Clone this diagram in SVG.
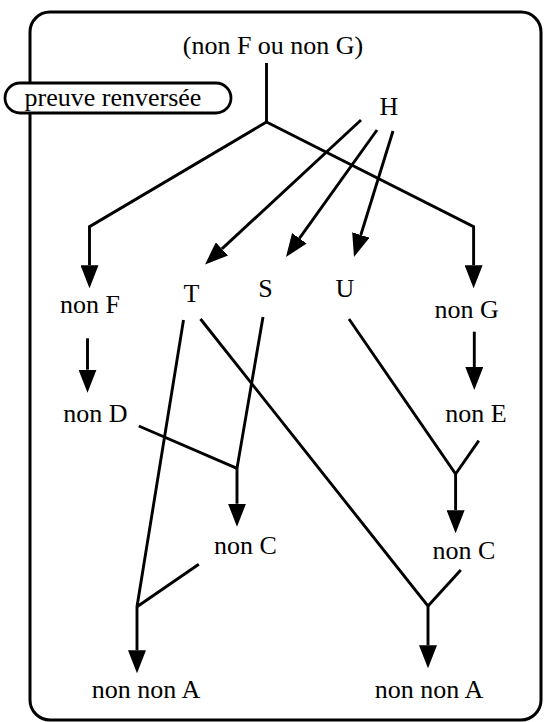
<svg xmlns="http://www.w3.org/2000/svg" width="544" height="722" viewBox="0 0 544 722">
  <style>
    .lbl { font-family: "Liberation Serif", "Times New Roman", serif; font-size: 26px; fill: #000; text-anchor: middle; }
    .edge { fill: none; stroke: #000; stroke-width: 2.9; stroke-linejoin: miter; stroke-linecap: butt; }
    .frame { fill: none; stroke: #000; stroke-width: 3; }
    .tag { fill: #fff; stroke: #000; stroke-width: 2.8; }
  </style>
  <defs>
    <!-- filled arrowhead; the path ends at its base, the head extends forward -->
    <marker id="head" markerUnits="userSpaceOnUse" markerWidth="23" markerHeight="18" viewBox="0 0 23 18" refX="0" refY="9" orient="auto">
      <path d="M0,0 L23,9 L0,18 Z" fill="#000"/>
    </marker>
  </defs>

  <rect fill="#fff" x="0" y="0" width="544" height="722"/>

  <!-- outer frame -->
  <rect class="frame" x="30" y="12" width="511" height="708" rx="20" ry="20"/>

  <!-- corner tag -->
  <g id="tag-preuve">
    <rect class="tag" x="5" y="83" width="226" height="30" rx="15" ry="15"/>
    <text class="lbl" x="113" y="106">preuve renversée</text>
  </g>

  <g id="connectors">
    <path class="edge" d="M266.5,63 V122"/>
    <path class="edge" d="M266.5,122 L89.5,226.7 V265.3" marker-end="url(#head)"/>
    <path class="edge" d="M266.5,122 L473.6,226.7 V265.3" marker-end="url(#head)"/>
    <path class="edge" d="M361,120 L221.9,248.9" marker-end="url(#head)"/>
    <path class="edge" d="M377,130 L299.4,238.3" marker-end="url(#head)"/>
    <path class="edge" d="M393,131 L360.8,235" marker-end="url(#head)"/>
    <path class="edge" d="M87.5,338.3 V369.7" marker-end="url(#head)"/>
    <path class="edge" d="M474.3,331.7 V367" marker-end="url(#head)"/>
    <path class="edge" d="M183.5,320 L137,606.7 V650.3" marker-end="url(#head)"/>
    <path class="edge" d="M198.8,564.3 L137,606.7"/>
    <path class="edge" d="M200.5,319 L428,606 V645.3" marker-end="url(#head)"/>
    <path class="edge" d="M460.8,570 L428,606"/>
    <path class="edge" d="M263,317 L237,468.3 V503.7" marker-end="url(#head)"/>
    <path class="edge" d="M138.8,426 L237,468.3"/>
    <path class="edge" d="M349,319 L455.6,474 V510.3" marker-end="url(#head)"/>
    <path class="edge" d="M478.8,440.7 L455.6,474"/>
  </g>

  <g id="n-root"><text class="lbl" x="273" y="54">(non F ou non G)</text></g>
  <g id="n-H"><text class="lbl" x="389" y="115">H</text></g>
  <g id="n-T"><text class="lbl" x="191.5" y="301.7">T</text></g>
  <g id="n-S"><text class="lbl" x="265.5" y="297">S</text></g>
  <g id="n-U"><text class="lbl" x="345" y="296.5">U</text></g>
  <g id="n-nonF"><text class="lbl" x="90" y="313.3">non F</text></g>
  <g id="n-nonG"><text class="lbl" x="466.7" y="318.3">non G</text></g>
  <g id="n-nonD"><text class="lbl" x="95.4" y="421.7">non D</text></g>
  <g id="n-nonE"><text class="lbl" x="476" y="421.7">non E</text></g>
  <g id="n-nonC-left"><text class="lbl" x="245.5" y="554">non C</text></g>
  <g id="n-nonC-right"><text class="lbl" x="464" y="559">non C</text></g>
  <g id="n-nonnonA-left"><text class="lbl" x="146" y="698">non non A</text></g>
  <g id="n-nonnonA-right"><text class="lbl" x="429" y="698">non non A</text></g>
</svg>
